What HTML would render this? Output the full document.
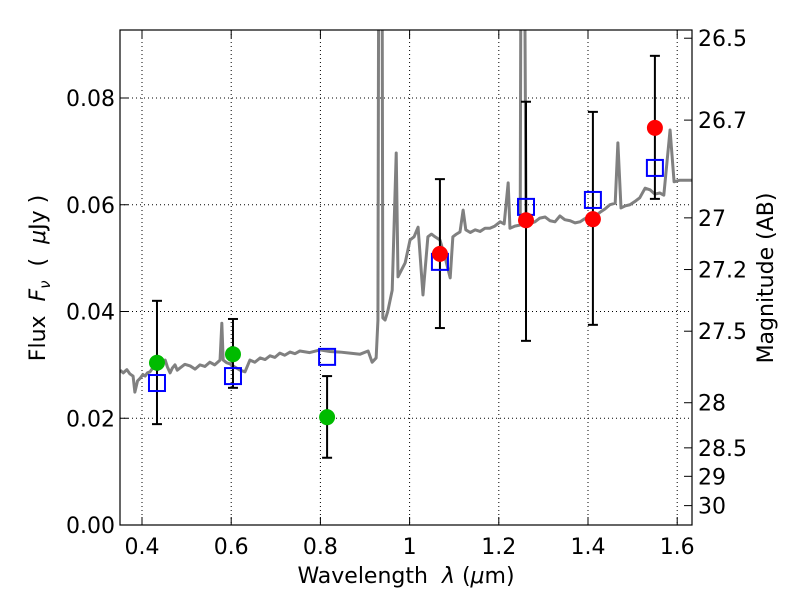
<!DOCTYPE html>
<html><head><meta charset="utf-8"><style>
body{margin:0;background:#fff;font-family:"Liberation Sans","DejaVu Sans",sans-serif}
svg text{font-family:"DejaVu Sans","Liberation Sans",sans-serif}
</style></head><body>
<svg id="c" width="800" height="600" xmlns="http://www.w3.org/2000/svg">
<defs><clipPath id="clip"><rect x="120" y="30" width="572" height="495"/></clipPath></defs>
<rect x="0" y="0" width="800" height="600" fill="#fff"/>
<g id="grid"></g>
<g id="spec" clip-path="url(#clip)"></g>
<g id="pts"></g>
<rect x="120" y="30" width="572" height="495" fill="none" stroke="#000" stroke-width="1.2"/>
<g id="axes"></g>
<text x="406" y="583" font-size="22" text-anchor="middle">Wavelength&#160;&#160;<tspan font-style="italic">λ</tspan>&#160;(<tspan font-style="italic">μ</tspan>m)</text>
<text transform="translate(45,278) rotate(-90)" font-size="22" text-anchor="middle">Flux&#160;&#160;<tspan font-style="italic">F</tspan><tspan font-style="italic" font-size="15" dy="5">ν</tspan><tspan dy="-5">&#160;&#160;(&#160;&#160;</tspan><tspan font-style="italic">μ</tspan>Jy )</text>
<text transform="translate(773,278) rotate(-90)" font-size="22" text-anchor="middle">Magnitude (AB)</text>
</svg>
<script>
const specLam=[0.351,0.358,0.366,0.373,0.380,0.384,0.390,0.396,0.402,0.407,0.412,0.418,0.423,0.429,0.434,0.440,0.446,0.452,0.457,0.463,0.468,0.474,0.479,0.485,0.496,0.508,0.519,0.530,0.541,0.552,0.563,0.575,0.579,0.582,0.590,0.597,0.608,0.620,0.631,0.642,0.653,0.665,0.676,0.687,0.698,0.709,0.720,0.732,0.743,0.754,0.776,0.799,0.821,0.844,0.866,0.889,0.907,0.916,0.925,0.929,0.931,0.938,0.940,0.945,0.951,0.961,0.970,0.974,0.982,0.990,1.001,1.010,1.019,1.030,1.041,1.049,1.057,1.068,1.080,1.091,1.097,1.105,1.113,1.120,1.126,1.136,1.147,1.158,1.169,1.180,1.191,1.203,1.212,1.221,1.225,1.236,1.248,1.250,1.257,1.261,1.270,1.281,1.292,1.304,1.315,1.326,1.337,1.348,1.360,1.371,1.382,1.393,1.404,1.416,1.427,1.438,1.449,1.461,1.467,1.474,1.484,1.494,1.505,1.516,1.528,1.539,1.550,1.561,1.570,1.584,1.593,1.606,1.633];
const specFlux=[0.0290,0.0285,0.0291,0.0283,0.0279,0.0249,0.0270,0.0275,0.0282,0.0279,0.0285,0.0287,0.0293,0.0298,0.0290,0.0294,0.0302,0.0309,0.0296,0.0285,0.0294,0.0300,0.0290,0.0294,0.0301,0.0298,0.0292,0.0300,0.0297,0.0305,0.0300,0.0309,0.0378,0.0309,0.0304,0.0302,0.0296,0.0290,0.0287,0.0309,0.0305,0.0313,0.0310,0.0317,0.0314,0.0322,0.0318,0.0324,0.0321,0.0326,0.0323,0.0328,0.0325,0.0324,0.0322,0.0320,0.0326,0.0305,0.0313,0.0384,0.12,0.12,0.0388,0.0384,0.0400,0.0440,0.0697,0.0465,0.0478,0.0491,0.0534,0.0540,0.0558,0.0431,0.0540,0.0545,0.0540,0.0534,0.0500,0.0463,0.0540,0.0545,0.0549,0.0590,0.0553,0.0548,0.0553,0.0550,0.0556,0.0556,0.0560,0.0568,0.0564,0.0641,0.0556,0.0560,0.0562,0.12,0.12,0.0571,0.0565,0.0568,0.0575,0.0577,0.0570,0.0568,0.0579,0.0572,0.0570,0.0566,0.0568,0.0574,0.0571,0.0578,0.0586,0.0592,0.0600,0.0603,0.0716,0.0594,0.0598,0.0600,0.0606,0.0613,0.0631,0.0628,0.0620,0.0622,0.0618,0.0740,0.0643,0.0646,0.0646];
const sqLam=[0.4336,0.604,0.815,1.068,1.261,1.411,1.550];
const sqFlux=[0.0266,0.0279,0.0315,0.0493,0.0596,0.0609,0.0669];
const gLam=[0.4336,0.604,0.815];
const gFlux=[0.0304,0.0320,0.0202];
const gLo=[0.0189,0.0257,0.0126];
const gHi=[0.0420,0.0386,0.0279];
const rLam=[1.068,1.261,1.411,1.550];
const rFlux=[0.0508,0.0571,0.0573,0.0744];
const rLo=[0.0369,0.0345,0.0375,0.0611];
const rHi=[0.0648,0.0793,0.0774,0.0879];
const xTicks=[0.4,0.6,0.8,1.0,1.2,1.4,1.6];
const xTickLabels=["0.4","0.6","0.8","1","1.2","1.4","1.6"];
const yTicks=[0,0.02,0.04,0.06,0.08];
const yTickLabels=["0.00","0.02","0.04","0.06","0.08"];
const magTicks=[26.5,26.7,27,27.2,27.5,28,28.5,29,30];
const magTickLabels=["26.5","26.7","27","27.2","27.5","28","28.5","29","30"];

const NS="http://www.w3.org/2000/svg";
const X=l=>142+(l-0.4)*446;
const Y=f=>525-f*5337.5;
function mk(p,t,a){const e=document.createElementNS(NS,t);for(const k in a)e.setAttribute(k,a[k]);p.appendChild(e);return e;}
const grid=document.getElementById('grid'),axes=document.getElementById('axes'),spec=document.getElementById('spec'),pts=document.getElementById('pts');
xTicks.forEach((v,i)=>{const x=X(v);
 let g=mk(grid,'line',{x1:x,x2:x,y1:30,y2:525,stroke:'#000','stroke-width':1,'stroke-dasharray':'1,3'});
 
 mk(axes,'line',{x1:x,x2:x,y1:525,y2:517,stroke:'#000'});mk(axes,'line',{x1:x,x2:x,y1:30,y2:38,stroke:'#000'});
 let t=mk(axes,'text',{x:x,y:554,'font-size':22,'text-anchor':'middle'});t.textContent=xTickLabels[i];
 });
yTicks.forEach((v,i)=>{const y=Y(v);
 let g=mk(grid,'line',{x1:120,x2:692,y1:y,y2:y,stroke:'#000','stroke-width':1,'stroke-dasharray':'1,3'});
 
 mk(axes,'line',{x1:120,x2:128,y1:y,y2:y,stroke:'#000'});
 let t=mk(axes,'text',{x:115,y:y+8,'font-size':22,'text-anchor':'end'});t.textContent=yTickLabels[i];
 });
magTicks.forEach((m,i)=>{const y=Y(Math.pow(10,-0.4*(m-23.9)));
 mk(axes,'line',{x1:684,x2:692,y1:y,y2:y,stroke:'#000'});
 let t=mk(axes,'text',{x:698,y:y+8,'font-size':22});t.textContent=magTickLabels[i];
 });
let pl=mk(spec,'polyline',{points:specLam.map((l,i)=>X(l)+','+Y(specFlux[i])).join(' '),fill:'none',stroke:'#808080','stroke-width':3,'stroke-linejoin':'round'});

function eb(l,lo,hi){const x=X(l);
 const g=mk(pts,'g',{stroke:'#000','stroke-width':2});
 
 mk(g,'line',{x1:x,x2:x,y1:Y(lo),y2:Y(hi)});mk(g,'line',{x1:x-5,x2:x+5,y1:Y(lo),y2:Y(lo)});mk(g,'line',{x1:x-5,x2:x+5,y1:Y(hi),y2:Y(hi)});}
gLam.forEach((l,i)=>eb(l,gLo[i],gHi[i]));
rLam.forEach((l,i)=>eb(l,rLo[i],rHi[i]));
sqLam.forEach((l,i)=>{let r=mk(pts,'rect',{x:X(l)-8,y:Y(sqFlux[i])-8,width:16,height:16,fill:'none',stroke:'#0000ff','stroke-width':2});
 });
gLam.forEach((l,i)=>{let c=mk(pts,'circle',{cx:X(l),cy:Y(gFlux[i]),r:8,fill:'#00bb00'});
 });
rLam.forEach((l,i)=>{let c=mk(pts,'circle',{cx:X(l),cy:Y(rFlux[i]),r:8,fill:'#ff0000'});
 });
</script>
</body></html>
